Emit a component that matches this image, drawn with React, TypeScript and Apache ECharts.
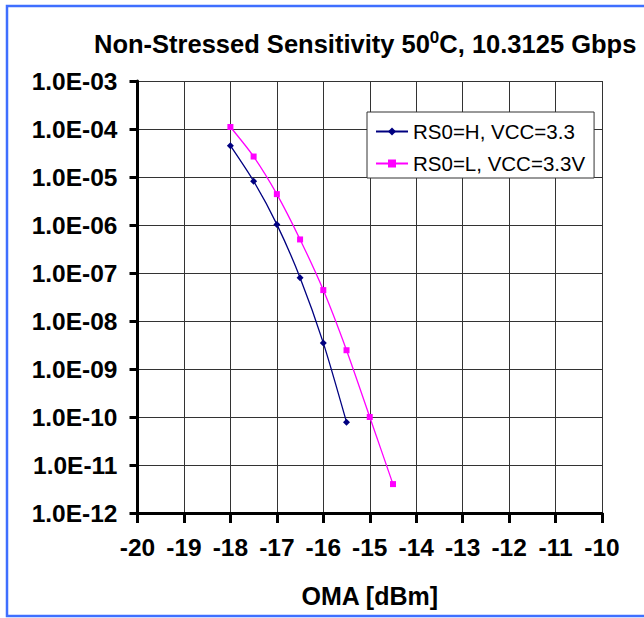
import React, { useEffect, useRef } from "react";
import * as echarts from "echarts";

const titleMain = "Non-Stressed Sensitivity 50";
const titleSup = "0";
const titleTail = "C, 10.3125 Gbps";
const xAxisName = "OMA [dBm]";

const seriesNames = ["RS0=H, VCC=3.3", "RS0=L, VCC=3.3V"];

const omaH = [-18, -17.5, -17, -16.5, -16, -15.5];
const berH = [4.5e-5, 8.2e-6, 1.03e-6, 8.0e-8, 3.5e-9, 7.8e-11];

const omaL = [-18, -17.5, -17, -16.5, -16, -15.5, -15, -14.5];
const berL = [1.1e-4, 2.67e-5, 4.4e-6, 5.0e-7, 4.4e-8, 2.46e-9, 1.0e-10, 4.0e-12];

const xTickLabels = ["-20", "-19", "-18", "-17", "-16", "-15", "-14", "-13", "-12", "-11", "-10"];
const yTickLabels = [
  "1.0E-12", "1.0E-11", "1.0E-10", "1.0E-09", "1.0E-08",
  "1.0E-07", "1.0E-06", "1.0E-05", "1.0E-04", "1.0E-03",
];

const FONT = "'Liberation Sans', Arial, sans-serif";

export default function App() {
  const ref = useRef<HTMLDivElement>(null);
  useEffect(() => {
    if (!ref.current) return;
    const chart = echarts.init(ref.current, undefined, { renderer: "svg" });
    const option: any = {
      animation: false,
      backgroundColor: "#ffffff",
      title: {
        text: `{a|${titleMain}}{s|${titleSup}}{a|${titleTail}}`,
        left: 89,
        top: 24,
        textStyle: {
          rich: {
            a: { fontFamily: FONT, fontWeight: "bold", fontSize: 25.5, color: "#000", lineHeight: 30 },
            s: { fontFamily: FONT, fontWeight: "bold", fontSize: 17, color: "#000", lineHeight: 30, padding: [0, 0, 13, 0] },
          },
        },
      },
      graphic: [
        {
          type: "rect",
          shape: { x: 7, y: 6, width: 700, height: 610 },
          style: { fill: "none", stroke: "#3F6FFF", lineWidth: 2.5 },
          silent: true,
          z: 100,
        },
      ],
      legend: {
        left: 367,
        top: 112,
        orient: "vertical",
        backgroundColor: "#fff",
        borderColor: "#333",
        borderWidth: 1,
        padding: [9, 9, 4, 8],
        itemGap: 11,
        itemWidth: 32,
        itemHeight: 10,
        textStyle: { fontFamily: FONT, fontSize: 20.5, color: "#000", lineHeight: 21 },
        data: seriesNames,
      },
      grid: { left: 137.5, right: 42, top: 81, bottom: 105, containLabel: false },
      xAxis: {
        type: "value",
        min: -20,
        max: -10,
        interval: 1,
        name: xAxisName,
        nameLocation: "middle",
        nameGap: 70,
        nameTextStyle: { fontFamily: FONT, fontWeight: "bold", fontSize: 25, color: "#000" },
        axisLine: { show: true, onZero: false, lineStyle: { color: "#000", width: 3 } },
        axisTick: { show: true, inside: false, length: 10, lineStyle: { color: "#000", width: 3 } },
        axisLabel: {
          margin: 22,
          fontFamily: FONT,
          fontWeight: "bold",
          fontSize: 24.5,
          color: "#000",
          formatter: (v: number) => xTickLabels[Math.round(v + 20)] ?? String(v),
        },
        splitLine: { show: true, lineStyle: { color: "#333", width: 1 } },
      },
      yAxis: {
        type: "log",
        logBase: 10,
        min: 1e-12,
        max: 1e-3,
        interval: 1,
        axisLine: { show: true, onZero: false, lineStyle: { color: "#000", width: 3 } },
        axisTick: { show: true, inside: false, length: 8, lineStyle: { color: "#000", width: 3 } },
        axisLabel: {
          margin: 20,
          fontFamily: FONT,
          fontWeight: "bold",
          fontSize: 24.5,
          color: "#000",
          formatter: (v: number) => {
            const e = Math.round(Math.log10(v));
            return yTickLabels[e + 12] ?? String(v);
          },
        },
        splitLine: { show: true, lineStyle: { color: "#333", width: 1 } },
        minorTick: { show: false },
      },
      series: [
        {
          name: seriesNames[0],
          type: "line",
          data: omaH.map((x, i) => [x, berH[i]]),
          smooth: 0.25,
          symbol: "diamond",
          symbolSize: 7,
          color: "#000080",
          lineStyle: { color: "#000080", width: 1.3 },
          itemStyle: { color: "#000080" },
        },
        {
          name: seriesNames[1],
          type: "line",
          data: omaL.map((x, i) => [x, berL[i]]),
          smooth: 0.25,
          symbol: "rect",
          symbolSize: 6,
          color: "#FF00FF",
          lineStyle: { color: "#FF00FF", width: 1.3 },
          itemStyle: { color: "#FF00FF" },
        },
      ],
    };
    chart.setOption(option);
    return () => chart.dispose();
  }, []);
  return (
    <div
      ref={ref}
      style={{ position: "absolute", left: 0, top: 0, width: 644, height: 618, background: "#fff" }}
    />
  );
}
